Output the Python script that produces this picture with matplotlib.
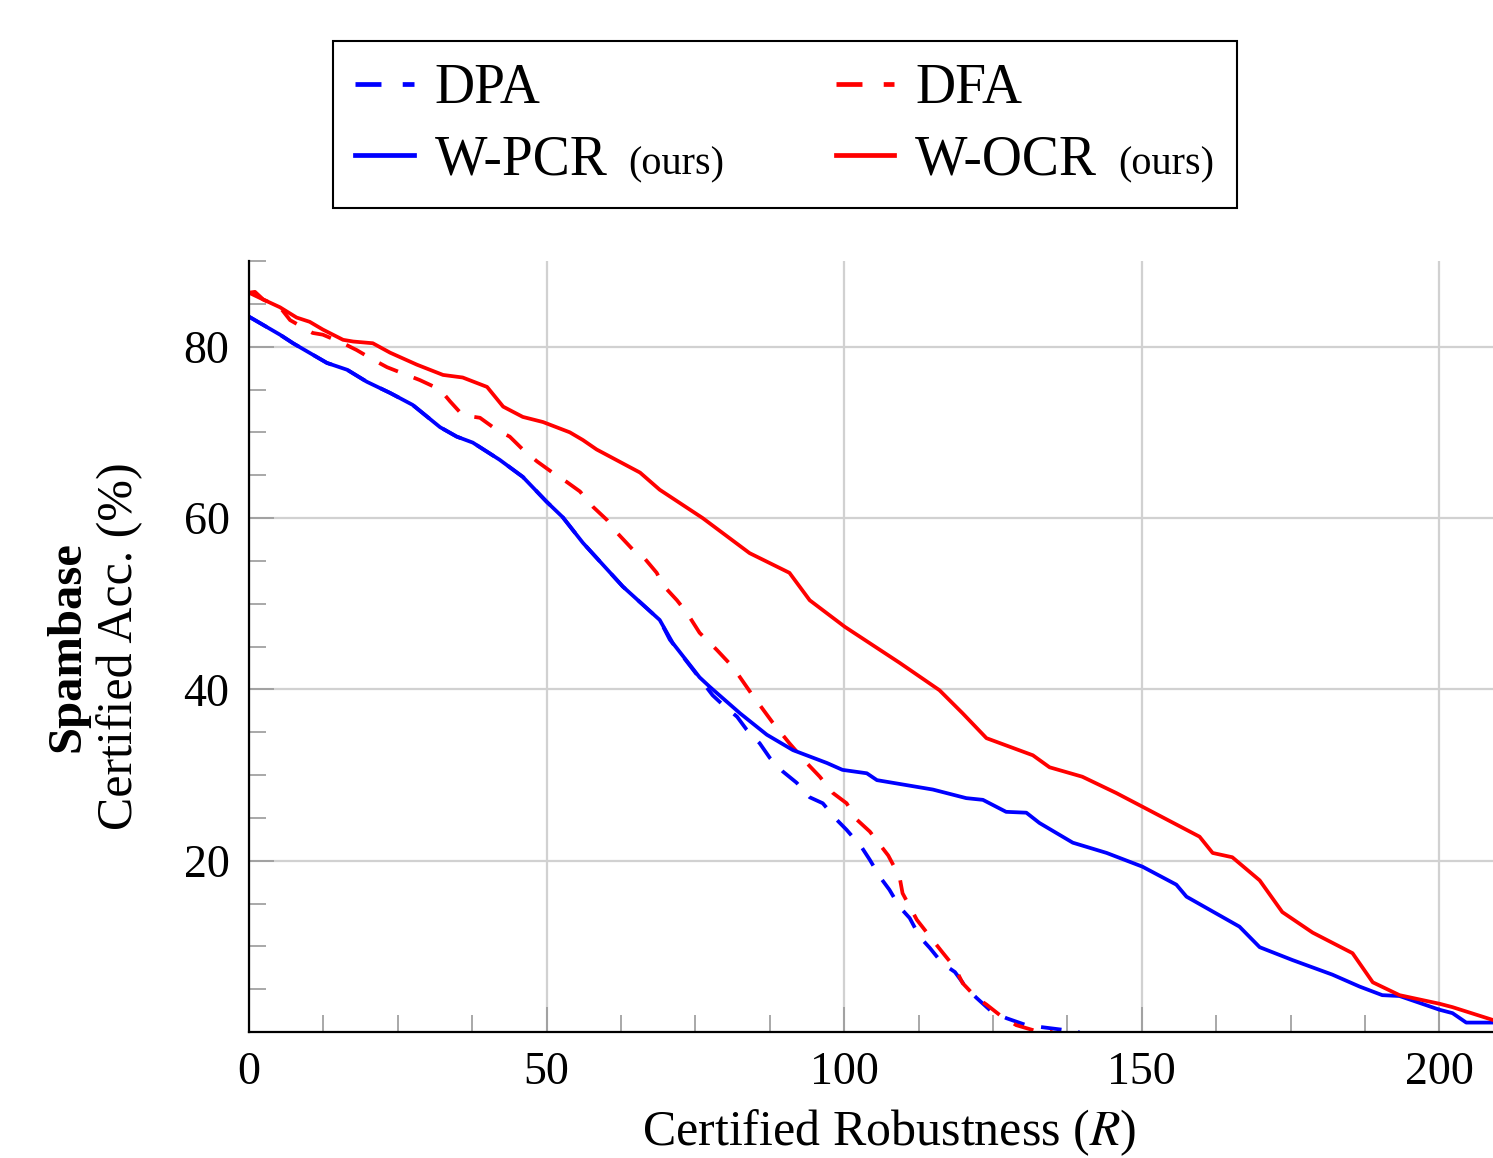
import numpy as np
import matplotlib
matplotlib.use('Agg')
import matplotlib.pyplot as plt
from matplotlib.ticker import MultipleLocator
from matplotlib.offsetbox import TextArea

plt.rcParams['font.family'] = 'Liberation Serif'
plt.rcParams['mathtext.fontset'] = 'stix'

# W-OCR (ours)
wocr_x = [0, 1.0, 2.4, 5.2, 8.0, 10.2, 12.4, 15.8, 17.5, 20.8, 23.7, 28.2, 32.6, 35.9, 40.0,
          42.7, 46.0, 49.4, 53.9, 56.1, 58.4, 65.7, 69.0, 76.2, 84.1, 90.8, 94.2, 100.1, 109.3,
          116.0, 119.9, 123.9, 131.7, 134.5, 140.0, 145.7, 150.1, 159.7, 161.9, 165.2, 169.8,
          173.6, 178.7, 185.4, 188.8, 193.3, 200.0, 202.2, 209.0]
wocr_y = [86.3, 86.4, 85.5, 84.6, 83.4, 82.9, 82.0, 80.8, 80.6, 80.4, 79.3, 77.9, 76.7, 76.4, 75.3,
          73.0, 71.8, 71.2, 70.0, 69.1, 68.0, 65.3, 63.3, 60.0, 55.9, 53.6, 50.4, 47.3, 43.1,
          39.9, 37.2, 34.3, 32.3, 30.9, 29.8, 27.9, 26.3, 22.8, 20.9, 20.4, 17.7,
          14.0, 11.6, 9.2, 5.8, 4.3, 3.3, 2.9, 1.4]

# W-PCR (ours)
wpcr_x = [0, 5.2, 7.4, 13.1, 16.5, 19.8, 23.7, 27.5, 32.1, 34.9, 37.6, 42.1, 46.0, 50.0, 52.7,
          56.1, 62.8, 69.0, 71.2, 75.7, 77.4, 82.5, 87.0, 91.4, 97.1, 99.7, 103.8, 105.5, 114.9,
          120.5, 123.3, 127.2, 130.6, 132.8, 138.4, 144.1, 150.1, 155.8, 157.5, 166.4, 169.8,
          175.3, 182.0, 186.6, 190.4, 193.3, 200.0, 202.2, 204.5, 209.0]
wpcr_y = [83.5, 81.4, 80.4, 78.1, 77.3, 75.9, 74.6, 73.2, 70.6, 69.5, 68.8, 66.8, 64.8, 61.9, 60.1,
          57.1, 52.0, 48.1, 45.4, 41.4, 40.3, 37.2, 34.7, 32.9, 31.4, 30.6, 30.2, 29.4, 28.3,
          27.3, 27.1, 25.7, 25.6, 24.4, 22.1, 20.9, 19.3, 17.2, 15.8, 12.3, 9.9,
          8.4, 6.7, 5.3, 4.3, 4.2, 2.6, 2.2, 1.1, 1.1]

# DPA
dpa_x = [0, 5.2, 7.4, 13.1, 16.5, 19.8, 23.7, 27.5, 32.1, 34.9, 37.6, 42.1, 46.0, 50.0, 52.7,
         56.1, 62.8, 69.0, 70.7, 74.6, 77.9, 79.6, 82.0, 83.6, 85.8, 87.5, 89.7, 92.0, 94.2,
         96.4, 98.7, 100.4, 102.9, 104.3, 106.0, 107.6, 109.3, 111.0, 112.7, 114.4, 116.5,
         118.6, 120.6, 122.2, 124.9, 127.3, 130.6, 132.8, 137.4, 139.5]
dpa_y = [83.5, 81.4, 80.4, 78.1, 77.3, 75.9, 74.6, 73.2, 70.6, 69.5, 68.8, 66.8, 64.8, 61.9, 60.1,
         57.1, 52.0, 48.1, 45.8, 42.3, 39.3, 38.2, 36.8, 35.3, 33.7, 32.0, 30.4, 29.1, 27.4,
         26.7, 24.8, 23.6, 21.6, 20.1, 18.1, 16.6, 14.6, 13.3, 11.1, 9.8, 8.0,
         7.0, 5.1, 4.0, 2.3, 1.6, 0.8, 0.6, 0.2, 0.0]

# DFA
dfa_x = [0, 2.4, 5.2, 6.9, 10.7, 12.4, 15.8, 18.1, 20.8, 23.2, 26.5, 28.7, 32.1, 33.8, 35.9,
         38.8, 41.6, 43.8, 46.0, 48.4, 51.0, 53.4, 55.6, 57.8, 60.1, 61.8, 64.5, 66.2, 68.5,
         69.5, 71.9, 73.6, 75.7, 78.6, 81.3, 84.3, 88.0, 90.8, 93.7, 95.9, 98.1, 100.4, 102.1,
         104.3, 107.4, 109.3, 109.8, 112.2, 114.9, 116.5, 118.6, 119.9, 122.2, 123.9, 126.1,
         128.9, 132.8, 135.0]
dfa_y = [86.3, 85.5, 84.6, 83.1, 81.6, 81.4, 80.4, 79.6, 78.5, 77.6, 76.7, 76.1, 75.0, 73.6, 72.0,
         71.7, 70.3, 69.5, 68.0, 66.6, 65.3, 64.2, 63.1, 61.3, 59.8, 58.3, 56.3, 55.5, 53.6,
         52.2, 50.4, 48.9, 46.6, 44.6, 42.6, 39.6, 36.1, 33.7, 31.4, 29.8, 27.9, 26.7, 24.8,
         23.4, 20.6, 18.1, 16.2, 13.1, 10.7, 9.3, 7.5, 5.7, 4.0, 3.2, 2.0,
         0.8, 0.0, 0.0]

x_ticks = [0, 50, 100, 150, 200]
y_ticks = [20, 40, 60, 80]

W, H = 1493, 1158
fig = plt.figure(figsize=(W / 100, H / 100), dpi=100)
ax = fig.add_axes([249 / W, 1 - 1032 / H, 1244 / W, 771 / H])

lw = 2.7
l_dpa, = ax.plot(dpa_x, dpa_y, color='blue', lw=lw, dashes=(5.5, 4.5))
l_dfa, = ax.plot(dfa_x, dfa_y, color='red', lw=lw, dashes=(5.5, 4.5))
l_pcr, = ax.plot(wpcr_x, wpcr_y, color='blue', lw=lw)
l_ocr, = ax.plot(wocr_x, wocr_y, color='red', lw=lw)

ax.set_xlim(0, 209)
ax.set_ylim(0, 90)
ax.set_xticks(x_ticks)
ax.set_yticks(y_ticks)
ax.xaxis.set_minor_locator(MultipleLocator(12.5))
ax.yaxis.set_minor_locator(MultipleLocator(5))
ax.tick_params(which='both', direction='in', color='0.6', width=1.2,
               labelsize=33, labelcolor='black', pad=14)
ax.tick_params(which='major', length=18)
ax.tick_params(which='minor', length=12)
ax.grid(which='major', color='0.82', lw=1.6)
ax.set_axisbelow(True)
for s in ['top', 'right']:
    ax.spines[s].set_visible(False)
for s in ['left', 'bottom']:
    ax.spines[s].set_linewidth(1.6)
    ax.spines[s].set_color('black')

ax.set_xlabel('Certified Robustness ($R$)', fontsize=36)
ax.xaxis.set_label_coords(0.5145, -0.098)
ax.text(-0.146, 0.5, 'Spambase', rotation=90, fontsize=35, fontweight='bold',
        ha='center', va='center', transform=ax.transAxes)
ax.text(-0.1037, 0.5, 'Certified Acc. (%)', rotation=90, fontsize=36,
        ha='center', va='center', transform=ax.transAxes)

leg = fig.legend([l_dpa, l_pcr, l_dfa, l_ocr], ['DPA', 'W-PCR', 'DFA', 'W-OCR'],
                 ncol=2, loc='upper left', bbox_to_anchor=(333 / W, 1 - 41 / H),
                 borderaxespad=0, fontsize=40, fancybox=False, edgecolor='black',
                 framealpha=1, handlelength=1.05, handletextpad=0.38,
                 columnspacing=2.0, labelspacing=0.34, borderpad=0.4)
leg.get_frame().set_linewidth(1.5)
for h in leg.legend_handles:
    h.set_linewidth(3.4)

# small "(ours)" after the W- entries
cols = leg.get_children()[0].get_children()[1].get_children()
for col in cols:
    for item in col.get_children():
        txt = item.get_children()[1].get_children()[0].get_text()
        if txt.startswith('W-'):
            ta = TextArea('(ours)', textprops=dict(fontsize=29))
            ta.set_figure(fig)
            item.get_children().append(ta)

fig.savefig('out.png', dpi=100)
